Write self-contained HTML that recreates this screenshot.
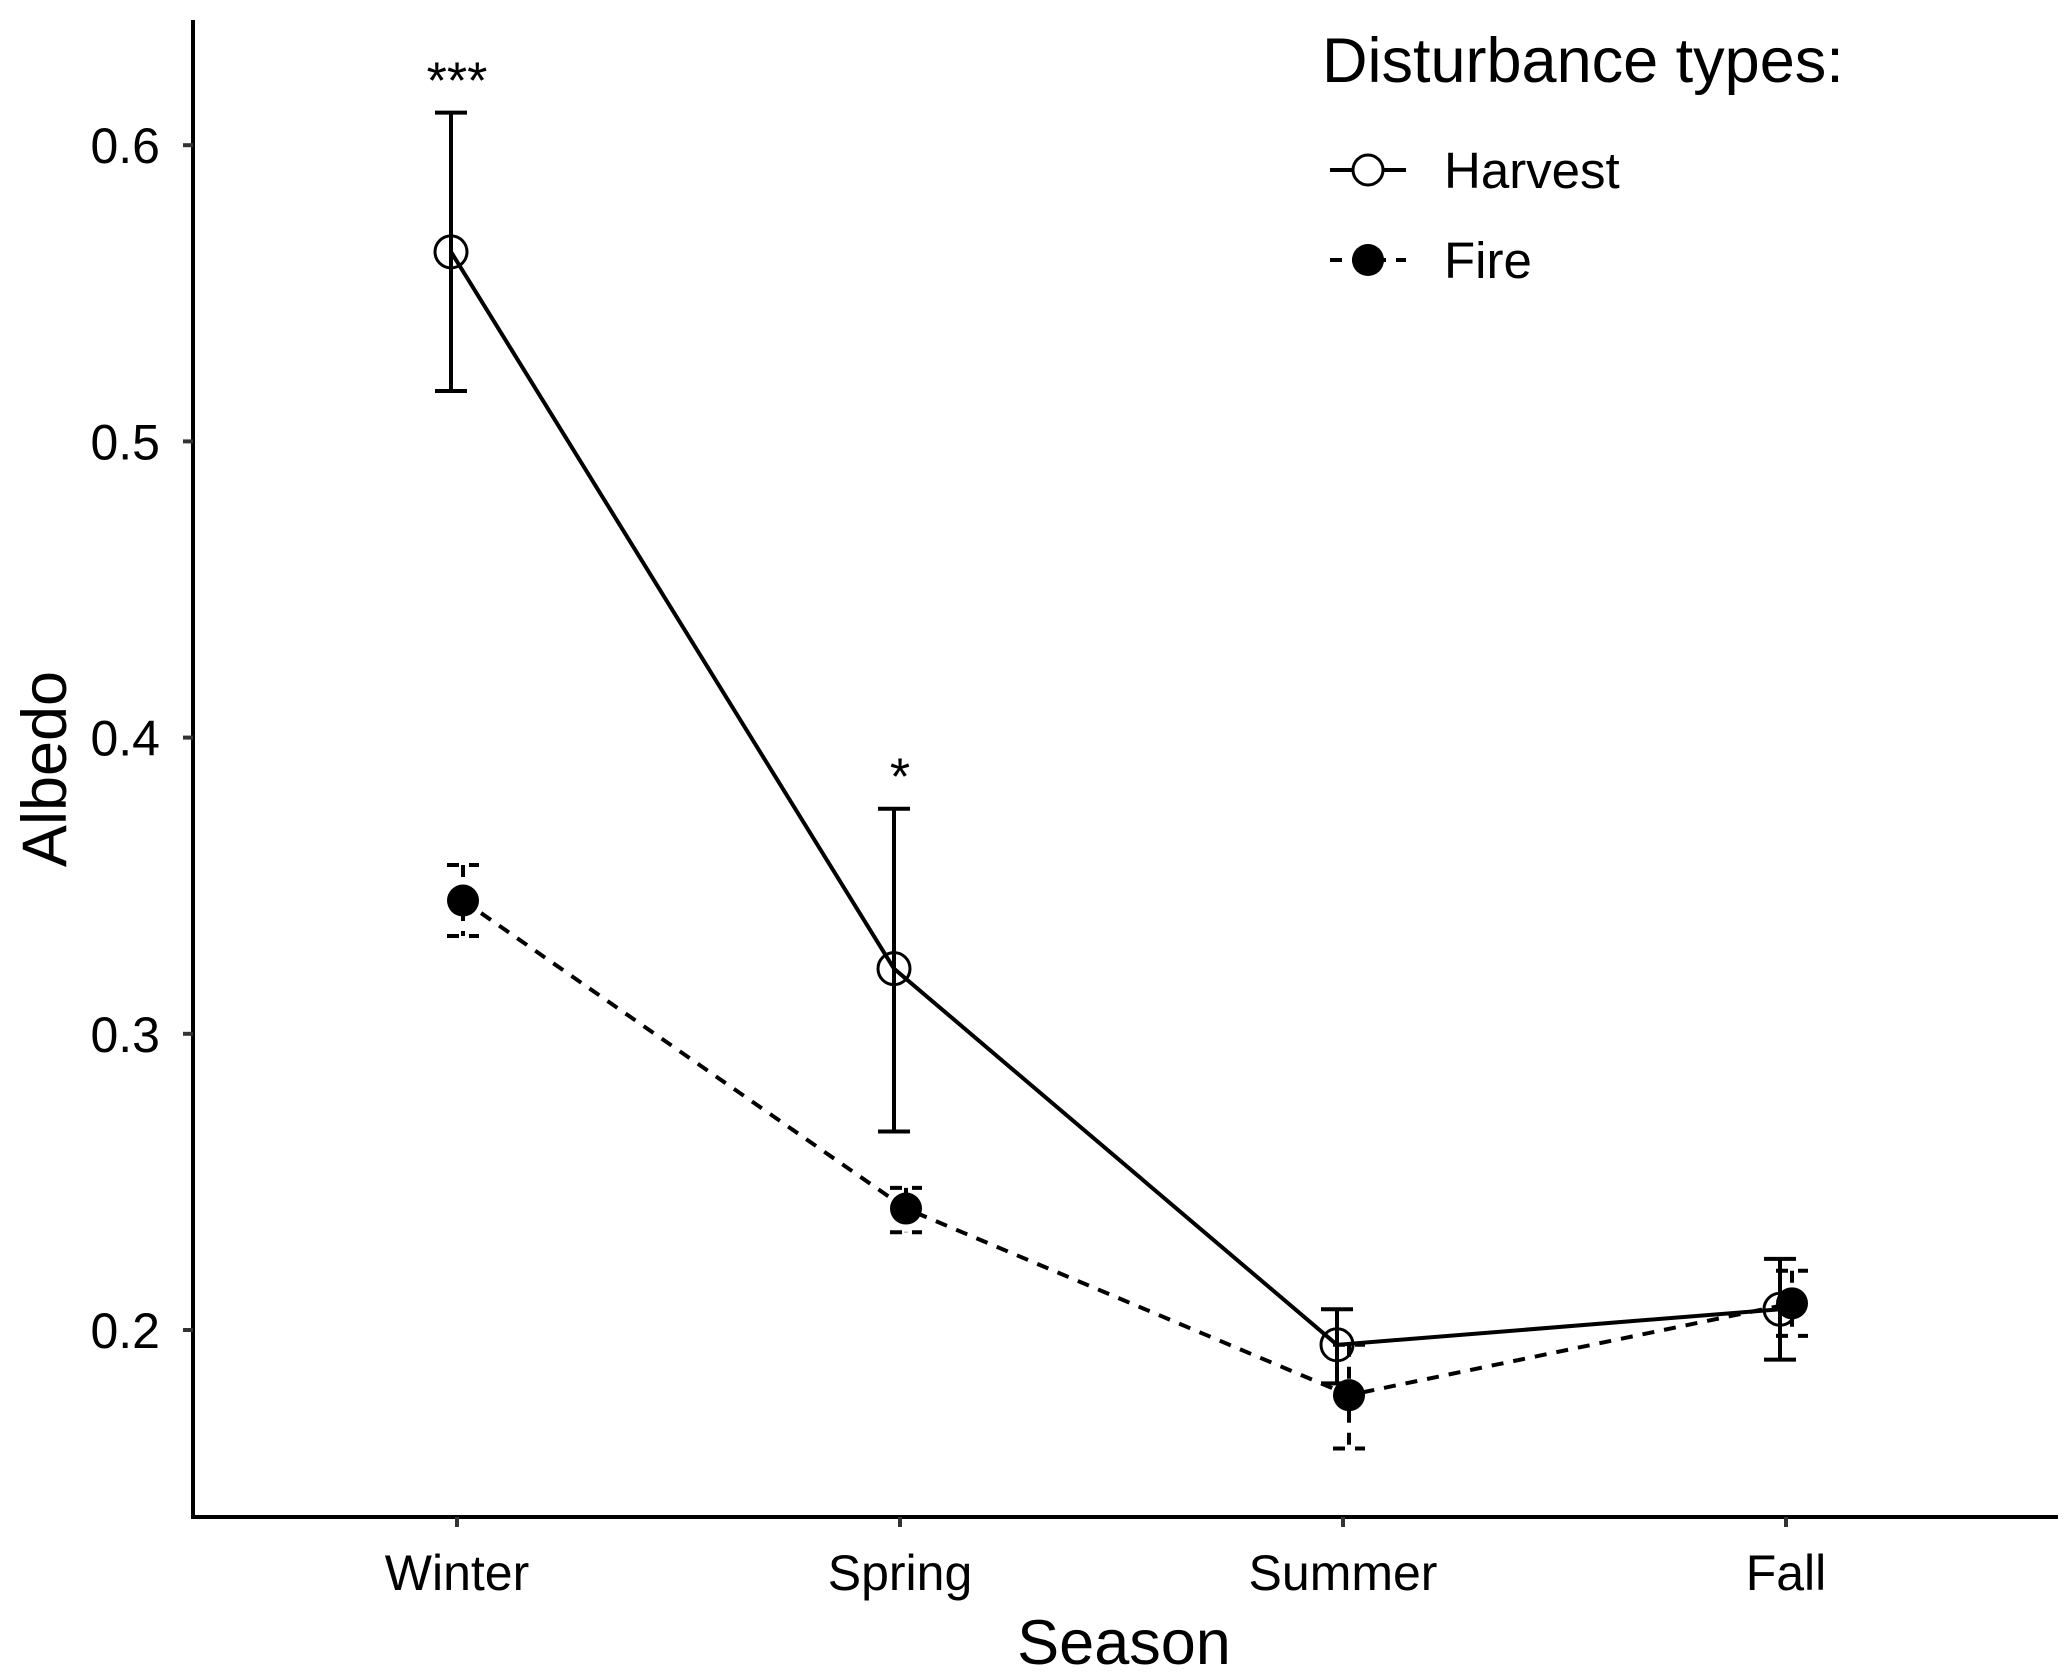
<!DOCTYPE html>
<html><head><meta charset="utf-8"><style>
html,body{margin:0;padding:0;background:#fff}
svg{display:block}
text{font-family:"Liberation Sans",Arial,sans-serif;fill:#000}
</style></head><body>
<svg id="chart" width="2067" height="1674" viewBox="0 0 2067 1674" xmlns="http://www.w3.org/2000/svg">
<g id="axes"></g>
<g id="marks"></g>
<g id="legend">
  <text x="1322" y="82" font-size="63">Disturbance types:</text>
  <g>
    <line x1="1330" y1="170" x2="1406" y2="170" stroke="#000" stroke-width="4"/>
    <circle cx="1368" cy="170" r="15" fill="#fff" stroke="#000" stroke-width="3"/>
    <text x="1444" y="188" font-size="51">Harvest</text>
  </g>
  <g>
    <line x1="1330" y1="260" x2="1406" y2="260" stroke="#000" stroke-width="4" stroke-dasharray="12,10"/>
    <circle cx="1368" cy="260" r="16" fill="#000"/>
    <text x="1444" y="278" font-size="51">Fire</text>
  </g>
</g>
</svg>
<script>
const categories = ["Winter","Spring","Summer","Fall"];
const harvestMean = [0.564,0.322,0.195,0.207];
const harvestLow  = [0.517,0.267,0.182,0.190];
const harvestHigh = [0.611,0.376,0.207,0.224];
const fireMean = [0.345,0.241,0.178,0.209];
const fireLow  = [0.333,0.233,0.160,0.198];
const fireHigh = [0.357,0.248,0.195,0.220];
const yTicks = [0.2,0.3,0.4,0.5,0.6];
const yTickLabels = ["0.2","0.3","0.4","0.5","0.6"];
const sigLabels = ["***","*","",""];

const NS="http://www.w3.org/2000/svg";
const X0=193, XEND=2058, Y0=1517, YTOP=20;
function xScale(i){return 457+i*443;}
function yScale(v){return 1330-(v-0.2)*2962;}
function mk(tag,attrs,parent){const e=document.createElementNS(NS,tag);for(const k in attrs)e.setAttribute(k,attrs[k]);parent.appendChild(e);return e;}
const axes=document.getElementById('axes'), marks=document.getElementById('marks');

let ya=mk('line',{x1:X0,y1:YTOP,x2:X0,y2:Y0,stroke:'#000','stroke-width':4},axes);


let xa=mk('line',{x1:X0-2,y1:Y0,x2:XEND,y2:Y0,stroke:'#000','stroke-width':4},axes);


yTicks.forEach((v,i)=>{
  const y=yScale(v);
  mk('line',{x1:X0-10,y1:y,x2:X0,y2:y,stroke:'#333','stroke-width':4},axes);
  const t=mk('text',{x:X0-33,y:y+18,'font-size':50,'text-anchor':'end'},axes);
  t.textContent=yTickLabels[i];
  
  
});
categories.forEach((c,i)=>{
  const x=xScale(i);
  mk('line',{x1:x,y1:Y0,x2:x,y2:Y0+10,stroke:'#333','stroke-width':4},axes);
  const t=mk('text',{x:x,y:1590,'font-size':50,'text-anchor':'middle'},axes);
  t.textContent=c;
  
  
});
let xt=mk('text',{x:1124,y:1664,'font-size':63,'text-anchor':'middle'},axes);
xt.textContent='Season';


let yt=mk('text',{x:0,y:0,'font-size':63,'text-anchor':'middle',transform:'translate(66,769) rotate(-90)'},axes);
yt.textContent='Albedo';



function series(name,mean,lo,hi,dx,dash,filled){
  const g=mk('g',{},marks);
  
  
  const pts=mean.map((v,i)=>(xScale(i)+dx)+','+yScale(v)).join(' ');
  const l=mk('polyline',{points:pts,fill:'none',stroke:'#000','stroke-width':4},g);
  if(dash)l.setAttribute('stroke-dasharray','12,10');
  
  
  mean.forEach((v,i)=>{
    const x=xScale(i)+dx, y1=yScale(hi[i]), y2=yScale(lo[i]);
    const eg=mk('g',{stroke:'#000','stroke-width':4},g);
    
    
    const da=dash?{'stroke-dasharray':'12,10'}:{};
    mk('line',Object.assign({x1:x,y1:y1,x2:x,y2:y2},da),eg);
    mk('line',Object.assign({x1:x-16,y1:y1,x2:x+16,y2:y1},da),eg);
    mk('line',Object.assign({x1:x-16,y1:y2,x2:x+16,y2:y2},da),eg);
    const c=mk('circle',{cx:x,cy:yScale(v),r:16,fill:filled?'#000':'none',stroke:'#000','stroke-width':filled?0:3},g);
    
    
  });
}
series('fire',fireMean,fireLow,fireHigh,6,true,true);
series('harvest',harvestMean,harvestLow,harvestHigh,-6,false,false);
sigLabels.forEach((s,i)=>{
  if(!s)return;
  const t=mk('text',{x:xScale(i),y:yScale(harvestHigh[i])-14,'font-size':52,'text-anchor':'middle'},marks);
  t.textContent=s;
  
  
});
</script>
</body></html>
